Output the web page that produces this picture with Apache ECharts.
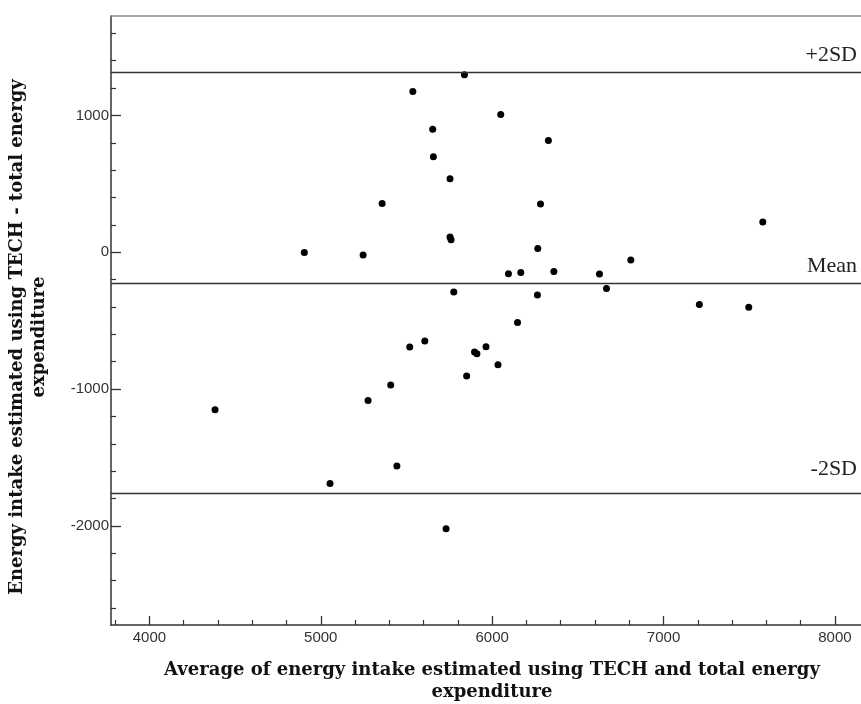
<!DOCTYPE html>
<html><head><meta charset="utf-8">
<script src="https://cdn.jsdelivr.net/npm/echarts@6/dist/echarts.min.js"></script>
<style>html,body{margin:0;padding:0;background:#fff}#c{width:861px;height:704px}</style>
</head><body><div id="c"></div>
<script>
// Average of the two methods (x) and difference (y)
const avgEnergy = [5838, 5537, 5653, 5657, 5754, 5358, 5754, 5760, 4904, 5247,
  6050, 6328, 6282, 7579, 6266, 6809, 6095, 6167, 6360, 6626,
  6667, 6264, 7209, 7497, 6148, 5964, 5897, 5911, 6034, 5776,
  5519, 5607, 5851, 5408, 5276, 5444, 4383, 5054, 5731];
const diffEnergy = [1297, 1175, 900, 698, 537, 357, 111, 91, -1, -20,
  1007, 817, 352, 221, 28, -57, -157, -148, -140, -159,
  -265, -313, -382, -403, -513, -691, -730, -742, -822, -291,
  -693, -649, -905, -971, -1083, -1563, -1151, -1690, -2021];
const refNames = ['+2SD', 'Mean', '-2SD'];
const refValues = [1315, -225, -1765];
const xMajorTicks = [4000, 5000, 6000, 7000, 8000];
const xMinorTicks = [3800, 4200, 4400, 4600, 4800, 5200, 5400, 5600, 5800, 6200, 6400, 6600, 6800, 7200, 7400, 7600, 7800];
const yMajorTicks = [-2000, -1000, 0, 1000];
const yMinorTicks = [-2600, -2400, -2200, -1800, -1600, -1400, -1200, -800, -600, -400, -200, 200, 400, 600, 800, 1200, 1400, 1600];
const xTitle = ['Average of energy intake estimated using TECH and total energy', 'expenditure'];
const yTitle = ['Energy intake estimated using TECH - total energy', 'expenditure'];

const X_MIN = 3776, X_MAX = 8152, Y_MIN = -2725, Y_MAX = 1727;
const axisColor = '#333';
const tickFont = { color: '#333', fontFamily: 'Liberation Sans', fontSize: 15, formatter: v => String(v) };
const titleFont = 'bold 18px "DejaVu Serif"';

const chart = echarts.init(document.getElementById('c'), null, { renderer: 'canvas' });
const points = avgEnergy.map((x, i) => [x, diffEnergy[i]]);

chart.setOption({
  animation: false,
  backgroundColor: '#fff',
  grid: { left: 111, top: 16, right: 0, bottom: 79, containLabel: false },
  xAxis: [
    { type: 'value', min: X_MIN, max: X_MAX, position: 'bottom',
      axisLine: { show: true, onZero: false, lineStyle: { color: axisColor, width: 1.5 } },
      axisTick: { show: true, inside: true, length: 9, customValues: xMajorTicks, lineStyle: { color: axisColor, width: 1.3 } },
      axisLabel: Object.assign({ show: true, margin: 5, customValues: xMajorTicks }, tickFont),
      splitLine: { show: false } },
    { type: 'value', min: X_MIN, max: X_MAX, position: 'bottom',
      axisLine: { show: false, onZero: false },
      axisTick: { show: true, inside: true, length: 5, customValues: xMinorTicks, lineStyle: { color: axisColor, width: 1.2 } },
      axisLabel: { show: false }, splitLine: { show: false } },
    { type: 'value', min: X_MIN, max: X_MAX, position: 'top',
      axisLine: { show: true, onZero: false, lineStyle: { color: '#888', width: 1.6 } },
      axisTick: { show: false }, axisLabel: { show: false }, splitLine: { show: false } }
  ],
  yAxis: [
    { type: 'value', min: Y_MIN, max: Y_MAX, position: 'left',
      axisLine: { show: true, onZero: false, lineStyle: { color: axisColor, width: 1.5 } },
      axisTick: { show: true, inside: true, length: 10, customValues: yMajorTicks, lineStyle: { color: axisColor, width: 1.3 } },
      axisLabel: Object.assign({ show: true, margin: 2, customValues: yMajorTicks }, tickFont),
      splitLine: { show: false } },
    { type: 'value', min: Y_MIN, max: Y_MAX, position: 'left',
      axisLine: { show: false, onZero: false },
      axisTick: { show: true, inside: true, length: 5, customValues: yMinorTicks, lineStyle: { color: axisColor, width: 1.2 } },
      axisLabel: { show: false }, splitLine: { show: false } }
  ],
  series: [{
    type: 'scatter', xAxisIndex: 0, yAxisIndex: 0,
    data: points, symbol: 'circle', symbolSize: 7,
    itemStyle: { color: '#000', opacity: 1 },
    markLine: {
      silent: true, symbol: ['none', 'none'],
      lineStyle: { color: '#333', width: 1.3, type: 'solid' },
      label: { show: true, position: 'insideEndTop', formatter: '{b}',
        color: '#222', fontFamily: 'Liberation Serif', fontSize: 22 },
      data: refValues.map((v, i) => ({ yAxis: v, name: refNames[i],
        label: { distance: [4, i === 2 ? 13 : 6] } }))
    }
  }],
  graphic: [
    { type: 'text', x: 492, y: 670, style: { text: xTitle[0], font: titleFont, fill: '#111', textAlign: 'center', textVerticalAlign: 'middle' } },
    { type: 'text', x: 492, y: 692, style: { text: xTitle[1], font: titleFont, fill: '#111', textAlign: 'center', textVerticalAlign: 'middle' } },
    { type: 'text', x: 17, y: 337, rotation: Math.PI / 2, style: { text: yTitle[0], font: titleFont, fill: '#111', textAlign: 'center', textVerticalAlign: 'middle' } },
    { type: 'text', x: 39, y: 337, rotation: Math.PI / 2, style: { text: yTitle[1], font: titleFont, fill: '#111', textAlign: 'center', textVerticalAlign: 'middle' } }
  ]
});
</script>
</body></html>
